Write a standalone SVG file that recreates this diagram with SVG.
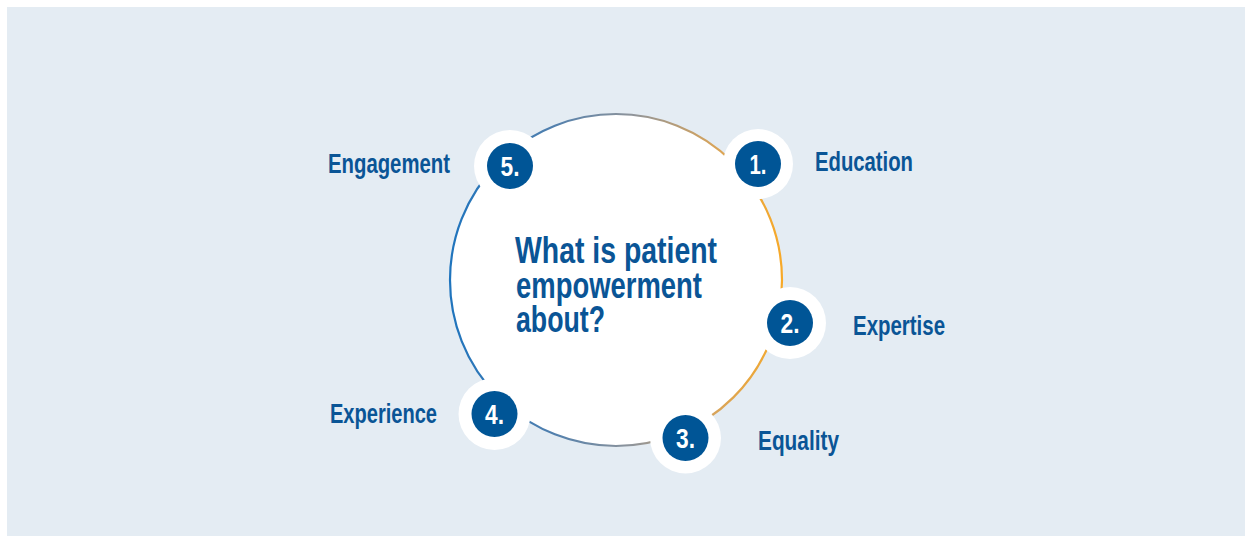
<svg xmlns="http://www.w3.org/2000/svg" width="1245" height="536" viewBox="0 0 1245 536">
  <defs>
    <linearGradient id="ring" x1="450" y1="0" x2="782" y2="0" gradientUnits="userSpaceOnUse">
      <stop offset="0" stop-color="#1f74bd"/>
      <stop offset="0.3" stop-color="#4f7fae"/>
      <stop offset="0.55" stop-color="#8f949a"/>
      <stop offset="0.8" stop-color="#d8a45a"/>
      <stop offset="1" stop-color="#f7a928"/>
    </linearGradient>
    <style>
      .lbl { font-family: "Liberation Sans Narrow", "Liberation Sans", Arial, sans-serif; font-weight: bold; font-size: 27.5px; fill: #0a5596; }
      .title { font-family: "Liberation Sans Narrow", "Liberation Sans", Arial, sans-serif; font-weight: bold; font-size: 36px; fill: #0a5596; }
      .num { font-family: "Liberation Sans Narrow", "Liberation Sans", Arial, sans-serif; font-weight: bold; font-size: 28px; fill: #ffffff; text-anchor: middle; }
      .halo { fill: #ffffff; }
      .dot { fill: #005596; }
    </style>
  </defs>
  <rect x="0" y="0" width="1245" height="536" fill="#ffffff"/>
  <rect x="7" y="7" width="1238" height="529" fill="#e4ecf3"/>

  <g id="center">
    <circle cx="616" cy="280" r="166" fill="#ffffff" stroke="url(#ring)" stroke-width="2.2"/>
    <text class="title" x="515" y="263" textLength="202" lengthAdjust="spacingAndGlyphs">What is patient</text>
    <text class="title" x="516" y="298" textLength="186" lengthAdjust="spacingAndGlyphs">empowerment</text>
    <text class="title" x="516" y="332" textLength="89" lengthAdjust="spacingAndGlyphs">about?</text>
  </g>

  <g id="connectors"></g>

  <g id="node1">
    <circle class="halo" cx="758" cy="164" r="35"/>
    <circle class="dot" cx="758" cy="164" r="23"/>
    <text class="num" x="758" y="174" textLength="17" lengthAdjust="spacingAndGlyphs">1.</text>
    <text class="lbl" x="815" y="171" textLength="98" lengthAdjust="spacingAndGlyphs">Education</text>
  </g>

  <g id="node2">
    <circle class="halo" cx="790" cy="323" r="36"/>
    <circle class="dot" cx="790" cy="323" r="23"/>
    <text class="num" x="790" y="333" textLength="19" lengthAdjust="spacingAndGlyphs">2.</text>
    <text class="lbl" x="853" y="335" textLength="92" lengthAdjust="spacingAndGlyphs">Expertise</text>
  </g>

  <g id="node3">
    <circle class="halo" cx="685.5" cy="438" r="35.5"/>
    <circle class="dot" cx="685.5" cy="438" r="23"/>
    <text class="num" x="685.5" y="448" textLength="19" lengthAdjust="spacingAndGlyphs">3.</text>
    <text class="lbl" x="758" y="450" textLength="81" lengthAdjust="spacingAndGlyphs">Equality</text>
  </g>

  <g id="node4">
    <circle class="halo" cx="494.5" cy="414" r="36"/>
    <circle class="dot" cx="494.5" cy="414" r="23"/>
    <text class="num" x="494.5" y="424" textLength="19" lengthAdjust="spacingAndGlyphs">4.</text>
    <text class="lbl" x="330" y="423" textLength="107" lengthAdjust="spacingAndGlyphs">Experience</text>
  </g>

  <g id="node5">
    <circle class="halo" cx="510" cy="166" r="36"/>
    <circle class="dot" cx="510" cy="166" r="23"/>
    <text class="num" x="510" y="176" textLength="19" lengthAdjust="spacingAndGlyphs">5.</text>
    <text class="lbl" x="328" y="173" textLength="122" lengthAdjust="spacingAndGlyphs">Engagement</text>
  </g>
</svg>
